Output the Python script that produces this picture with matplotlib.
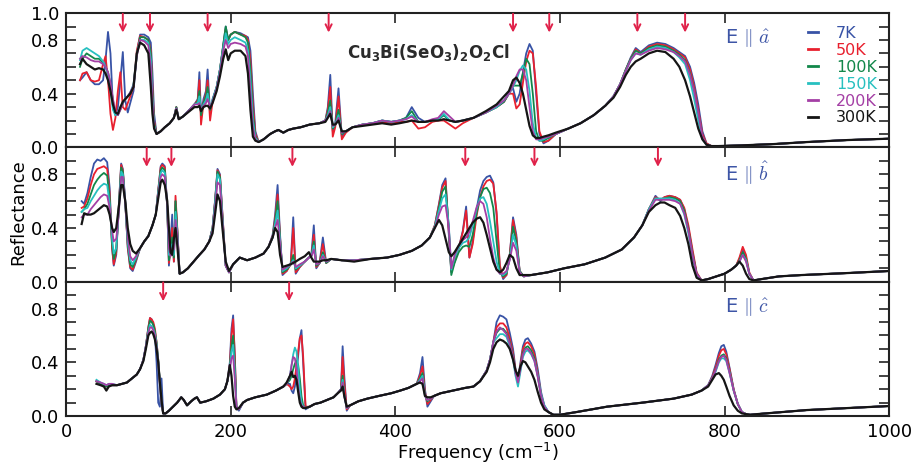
import matplotlib
matplotlib.use("Agg")
import matplotlib.pyplot as plt
from matplotlib.ticker import FixedLocator, MultipleLocator

# ---------------------------------------------------------------- data
temps = ["7K", "50K", "100K", "150K", "200K", "300K"]
colors = ["#3853a6", "#e8202e", "#12874a", "#27c0c0", "#a43fa5", "#151515"]

# E || a
freq_a = [17, 20, 25, 30, 35, 40, 45, 48, 51, 54, 57, 60, 63, 66, 69, 72, 75, 78, 82, 86, 90, 95, 100, 103, 105, 107, 110,
          115, 120, 126, 131, 134, 137, 142, 150, 156, 160, 162, 164, 167, 170, 172, 175, 178, 183, 187, 191, 194, 197, 200, 205, 212, 218, 221, 224, 227, 230, 234,
          240, 248, 254, 258, 264, 270, 276, 285, 296, 308, 315, 318, 321, 324, 327, 331, 335,
          340, 348, 360, 372, 384, 395, 405, 413, 420, 428, 436, 445, 452, 459, 466, 473, 482, 495, 510, 523, 532,
          538, 543, 547, 551, 555, 559, 563, 567, 571, 575, 580, 586, 595,
          610, 625, 641, 655, 665, 673, 680, 686, 692, 698, 708, 718, 728, 738, 745, 752, 758, 763, 768, 773, 778, 784, 792, 820, 860, 900, 950, 1000]
a_7K = [0.50, 0.52, 0.56, 0.50, 0.47, 0.47, 0.50, 0.65, 0.86, 0.70, 0.30, 0.24, 0.30, 0.50, 0.71, 0.35, 0.26, 0.33, 0.42, 0.70, 0.84, 0.84, 0.82, 0.78, 0.55, 0.25, 0.10,
        0.12, 0.15, 0.18, 0.22, 0.30, 0.21, 0.23, 0.28, 0.32, 0.36, 0.56, 0.24, 0.36, 0.42, 0.58, 0.25, 0.36, 0.45, 0.58, 0.76, 0.90, 0.80, 0.84, 0.86, 0.85, 0.83, 0.82, 0.72, 0.40, 0.12, 0.04,
        0.06, 0.10, 0.12, 0.13, 0.11, 0.13, 0.14, 0.15, 0.17, 0.18, 0.20, 0.30, 0.54, 0.12, 0.18, 0.44, 0.08,
        0.12, 0.15, 0.17, 0.18, 0.20, 0.19, 0.20, 0.22, 0.30, 0.22, 0.19, 0.20, 0.21, 0.24, 0.20, 0.19, 0.20, 0.22, 0.26, 0.30, 0.34,
        0.41, 0.44, 0.34, 0.40, 0.56, 0.70, 0.77, 0.72, 0.40, 0.10, 0.03, 0.05, 0.10,
        0.14, 0.18, 0.24, 0.31, 0.38, 0.47, 0.58, 0.67, 0.74, 0.71, 0.76, 0.78, 0.77, 0.74, 0.71, 0.68, 0.60, 0.48, 0.32, 0.12, 0.03, 0.01, 0.01, 0.015, 0.025, 0.04, 0.055, 0.065]
a_50K = [0.50, 0.55, 0.56, 0.50, 0.49, 0.50, 0.62, 0.68, 0.50, 0.25, 0.13, 0.22, 0.42, 0.56, 0.30, 0.28, 0.33, 0.38, 0.45, 0.72, 0.83, 0.82, 0.80, 0.72, 0.45, 0.20, 0.10,
         0.12, 0.15, 0.18, 0.22, 0.30, 0.21, 0.23, 0.28, 0.32, 0.35, 0.50, 0.17, 0.33, 0.40, 0.50, 0.20, 0.34, 0.45, 0.58, 0.75, 0.88, 0.80, 0.84, 0.86, 0.84, 0.83, 0.80, 0.65, 0.32, 0.10, 0.04,
         0.06, 0.10, 0.12, 0.13, 0.11, 0.13, 0.14, 0.15, 0.17, 0.18, 0.20, 0.28, 0.45, 0.08, 0.15, 0.38, 0.06,
         0.11, 0.15, 0.17, 0.18, 0.19, 0.18, 0.19, 0.19, 0.20, 0.14, 0.15, 0.19, 0.20, 0.20, 0.17, 0.14, 0.18, 0.22, 0.26, 0.30, 0.34,
         0.40, 0.40, 0.29, 0.32, 0.48, 0.64, 0.72, 0.70, 0.45, 0.12, 0.04, 0.05, 0.10,
         0.14, 0.18, 0.24, 0.31, 0.38, 0.47, 0.58, 0.66, 0.73, 0.70, 0.75, 0.77, 0.76, 0.73, 0.70, 0.67, 0.58, 0.45, 0.28, 0.10, 0.03, 0.01, 0.01, 0.015, 0.025, 0.04, 0.055, 0.065]
a_100K = [0.60, 0.66, 0.70, 0.68, 0.66, 0.66, 0.63, 0.60, 0.56, 0.47, 0.35, 0.25, 0.24, 0.28, 0.33, 0.36, 0.38, 0.40, 0.46, 0.68, 0.82, 0.82, 0.80, 0.70, 0.40, 0.18, 0.10,
          0.12, 0.15, 0.18, 0.22, 0.30, 0.21, 0.23, 0.28, 0.32, 0.34, 0.42, 0.24, 0.33, 0.38, 0.45, 0.28, 0.35, 0.45, 0.58, 0.76, 0.90, 0.80, 0.84, 0.86, 0.84, 0.82, 0.78, 0.58, 0.25, 0.08, 0.04,
          0.06, 0.10, 0.12, 0.13, 0.11, 0.13, 0.14, 0.15, 0.17, 0.18, 0.20, 0.26, 0.35, 0.14, 0.17, 0.28, 0.10,
          0.12, 0.15, 0.17, 0.18, 0.20, 0.19, 0.20, 0.22, 0.27, 0.19, 0.19, 0.20, 0.21, 0.24, 0.20, 0.19, 0.20, 0.22, 0.26, 0.30, 0.34,
          0.40, 0.46, 0.46, 0.46, 0.55, 0.66, 0.62, 0.40, 0.12, 0.05, 0.05, 0.07, 0.10,
          0.14, 0.18, 0.24, 0.31, 0.38, 0.47, 0.58, 0.66, 0.72, 0.70, 0.74, 0.76, 0.75, 0.72, 0.69, 0.65, 0.55, 0.42, 0.25, 0.08, 0.02, 0.01, 0.01, 0.015, 0.025, 0.04, 0.055, 0.065]
a_150K = [0.65, 0.72, 0.74, 0.72, 0.70, 0.68, 0.64, 0.60, 0.54, 0.42, 0.28, 0.24, 0.25, 0.29, 0.33, 0.36, 0.38, 0.41, 0.47, 0.70, 0.80, 0.80, 0.78, 0.65, 0.35, 0.16, 0.10,
          0.12, 0.15, 0.18, 0.22, 0.29, 0.21, 0.23, 0.28, 0.32, 0.33, 0.38, 0.27, 0.32, 0.35, 0.40, 0.29, 0.35, 0.45, 0.58, 0.74, 0.85, 0.77, 0.80, 0.82, 0.80, 0.78, 0.72, 0.50, 0.20, 0.07, 0.04,
          0.06, 0.10, 0.12, 0.13, 0.11, 0.13, 0.14, 0.15, 0.17, 0.18, 0.20, 0.24, 0.30, 0.15, 0.17, 0.24, 0.11,
          0.12, 0.15, 0.17, 0.18, 0.20, 0.19, 0.20, 0.21, 0.24, 0.19, 0.19, 0.20, 0.21, 0.25, 0.20, 0.19, 0.20, 0.22, 0.26, 0.30, 0.35,
          0.40, 0.45, 0.50, 0.57, 0.61, 0.58, 0.42, 0.18, 0.07, 0.05, 0.06, 0.08, 0.10,
          0.14, 0.18, 0.24, 0.31, 0.38, 0.47, 0.57, 0.65, 0.70, 0.69, 0.73, 0.75, 0.74, 0.71, 0.67, 0.62, 0.50, 0.36, 0.20, 0.06, 0.02, 0.01, 0.01, 0.015, 0.025, 0.04, 0.055, 0.065]
a_200K = [0.66, 0.68, 0.67, 0.65, 0.64, 0.64, 0.62, 0.60, 0.56, 0.48, 0.36, 0.27, 0.24, 0.28, 0.33, 0.36, 0.38, 0.41, 0.46, 0.68, 0.80, 0.79, 0.76, 0.60, 0.33, 0.15, 0.10,
          0.12, 0.15, 0.18, 0.22, 0.29, 0.21, 0.23, 0.28, 0.32, 0.32, 0.33, 0.28, 0.31, 0.33, 0.36, 0.30, 0.34, 0.44, 0.56, 0.72, 0.80, 0.74, 0.77, 0.78, 0.77, 0.75, 0.68, 0.42, 0.15, 0.06, 0.04,
          0.06, 0.10, 0.12, 0.13, 0.11, 0.13, 0.14, 0.15, 0.17, 0.18, 0.20, 0.23, 0.27, 0.16, 0.17, 0.22, 0.11,
          0.12, 0.15, 0.17, 0.18, 0.20, 0.19, 0.20, 0.21, 0.23, 0.19, 0.19, 0.21, 0.22, 0.27, 0.23, 0.19, 0.20, 0.22, 0.26, 0.31, 0.35,
          0.40, 0.46, 0.53, 0.58, 0.58, 0.50, 0.30, 0.12, 0.06, 0.06, 0.07, 0.08, 0.10,
          0.14, 0.18, 0.24, 0.31, 0.38, 0.47, 0.57, 0.65, 0.70, 0.69, 0.72, 0.74, 0.73, 0.71, 0.68, 0.64, 0.54, 0.42, 0.26, 0.08, 0.02, 0.01, 0.01, 0.015, 0.025, 0.04, 0.055, 0.065]
a_300K = [0.62, 0.66, 0.62, 0.60, 0.58, 0.59, 0.58, 0.55, 0.50, 0.42, 0.32, 0.26, 0.25, 0.30, 0.34, 0.36, 0.38, 0.40, 0.45, 0.70, 0.78, 0.76, 0.70, 0.45, 0.25, 0.14, 0.10,
          0.12, 0.15, 0.18, 0.22, 0.28, 0.21, 0.23, 0.27, 0.30, 0.30, 0.31, 0.27, 0.30, 0.31, 0.31, 0.29, 0.33, 0.42, 0.53, 0.66, 0.73, 0.65, 0.70, 0.72, 0.72, 0.68, 0.55, 0.28, 0.08, 0.05, 0.04,
          0.06, 0.10, 0.12, 0.13, 0.11, 0.13, 0.14, 0.15, 0.17, 0.18, 0.19, 0.22, 0.25, 0.17, 0.17, 0.20, 0.12,
          0.12, 0.15, 0.16, 0.17, 0.18, 0.17, 0.18, 0.19, 0.20, 0.19, 0.19, 0.20, 0.20, 0.21, 0.20, 0.19, 0.20, 0.22, 0.27, 0.32, 0.38,
          0.42, 0.50, 0.52, 0.48, 0.40, 0.28, 0.16, 0.09, 0.07, 0.07, 0.08, 0.09, 0.11,
          0.14, 0.18, 0.24, 0.31, 0.37, 0.45, 0.54, 0.60, 0.64, 0.66, 0.70, 0.72, 0.71, 0.66, 0.60, 0.50, 0.38, 0.26, 0.14, 0.06, 0.02, 0.01, 0.01, 0.015, 0.025, 0.04, 0.055, 0.065]

# E || b
freq_b = [19, 22, 26, 30, 34, 38, 42, 46, 50, 53, 56, 58, 61, 64, 67, 69, 72, 75, 78, 81, 85, 90, 95, 100, 105, 109, 112, 115, 117, 120, 123, 125, 127, 129, 131, 133, 135, 138,
          142, 148, 155, 162, 168, 174, 178, 181, 184, 187, 190, 194, 198, 203, 211, 220, 230, 240, 246, 251, 254, 257, 260, 263, 268, 273, 276, 279, 284, 290, 295, 298, 301, 304, 308, 312, 316, 322,
          335, 350, 370, 390, 405, 420, 432, 442, 448, 453, 457, 461, 465, 468, 472, 477, 482, 486, 490, 494, 499, 503, 507, 511, 515, 519, 523, 527, 531, 535, 539, 543, 547, 551, 556,
          565, 585, 605, 630, 655, 675, 690, 700, 708, 716, 722, 727, 733, 740, 746, 751, 756, 761, 766, 772, 780, 790, 800, 808, 814, 818, 822, 826, 830, 835, 845, 866, 894, 950, 1000]
b_7K = [0.60, 0.58, 0.66, 0.78, 0.88, 0.91, 0.90, 0.92, 0.89, 0.70, 0.25, 0.12, 0.20, 0.55, 0.88, 0.84, 0.60, 0.25, 0.10, 0.08, 0.15, 0.25, 0.30, 0.34, 0.42, 0.50, 0.68, 0.86, 0.88, 0.86, 0.55, 0.12, 0.30, 0.50, 0.15, 0.60, 0.40, 0.06,
        0.07, 0.10, 0.15, 0.20, 0.24, 0.30, 0.40, 0.60, 0.84, 0.80, 0.50, 0.12, 0.07, 0.13, 0.18, 0.16, 0.18, 0.21, 0.26, 0.35, 0.50, 0.72, 0.35, 0.05, 0.08, 0.14, 0.48, 0.06, 0.11, 0.15, 0.18, 0.20, 0.42, 0.10, 0.14, 0.33, 0.14, 0.17,
        0.16, 0.16, 0.17, 0.18, 0.20, 0.23, 0.27, 0.33, 0.42, 0.58, 0.72, 0.77, 0.35, 0.07, 0.15, 0.25, 0.38, 0.56, 0.18, 0.30, 0.55, 0.68, 0.75, 0.78, 0.79, 0.74, 0.50, 0.10, 0.02, 0.05, 0.20, 0.48, 0.35, 0.08, 0.04,
        0.05, 0.07, 0.10, 0.13, 0.18, 0.24, 0.33, 0.42, 0.54, 0.64, 0.60, 0.63, 0.64, 0.63, 0.61, 0.54, 0.40, 0.22, 0.06, 0.01, 0.02, 0.04, 0.06, 0.09, 0.12, 0.17, 0.24, 0.18, 0.06, 0.01, 0.02, 0.04, 0.05, 0.065, 0.08]
b_50K = [0.55, 0.56, 0.62, 0.72, 0.80, 0.84, 0.85, 0.86, 0.84, 0.66, 0.25, 0.13, 0.22, 0.55, 0.87, 0.83, 0.58, 0.26, 0.11, 0.09, 0.16, 0.25, 0.30, 0.34, 0.42, 0.50, 0.68, 0.85, 0.87, 0.85, 0.55, 0.14, 0.25, 0.40, 0.15, 0.64, 0.42, 0.06,
         0.07, 0.10, 0.15, 0.20, 0.24, 0.30, 0.40, 0.60, 0.83, 0.79, 0.50, 0.12, 0.07, 0.13, 0.18, 0.16, 0.18, 0.21, 0.26, 0.34, 0.47, 0.65, 0.33, 0.06, 0.08, 0.13, 0.40, 0.07, 0.11, 0.15, 0.18, 0.19, 0.35, 0.11, 0.14, 0.28, 0.14, 0.17,
         0.16, 0.16, 0.17, 0.18, 0.20, 0.23, 0.27, 0.33, 0.42, 0.57, 0.70, 0.75, 0.36, 0.08, 0.15, 0.25, 0.37, 0.53, 0.18, 0.28, 0.50, 0.63, 0.71, 0.75, 0.76, 0.73, 0.52, 0.12, 0.03, 0.05, 0.20, 0.46, 0.33, 0.08, 0.04,
         0.05, 0.07, 0.10, 0.13, 0.18, 0.24, 0.33, 0.42, 0.54, 0.63, 0.61, 0.63, 0.64, 0.63, 0.61, 0.55, 0.42, 0.24, 0.07, 0.01, 0.02, 0.04, 0.06, 0.09, 0.12, 0.18, 0.26, 0.20, 0.07, 0.01, 0.02, 0.04, 0.05, 0.065, 0.08]
b_100K = [0.52, 0.54, 0.58, 0.65, 0.72, 0.76, 0.79, 0.81, 0.79, 0.62, 0.28, 0.17, 0.24, 0.55, 0.85, 0.82, 0.58, 0.28, 0.13, 0.11, 0.17, 0.25, 0.30, 0.34, 0.42, 0.50, 0.67, 0.83, 0.85, 0.83, 0.55, 0.16, 0.22, 0.33, 0.18, 0.60, 0.40, 0.06,
          0.07, 0.10, 0.15, 0.20, 0.24, 0.30, 0.40, 0.59, 0.82, 0.78, 0.48, 0.12, 0.07, 0.13, 0.18, 0.16, 0.18, 0.21, 0.26, 0.33, 0.45, 0.60, 0.32, 0.07, 0.09, 0.13, 0.20, 0.09, 0.12, 0.15, 0.18, 0.19, 0.30, 0.12, 0.14, 0.22, 0.14, 0.17,
          0.16, 0.16, 0.17, 0.18, 0.20, 0.23, 0.27, 0.33, 0.41, 0.55, 0.67, 0.71, 0.40, 0.05, 0.14, 0.22, 0.26, 0.27, 0.26, 0.35, 0.52, 0.63, 0.69, 0.70, 0.66, 0.55, 0.30, 0.07, 0.04, 0.06, 0.18, 0.41, 0.30, 0.08, 0.04,
          0.05, 0.07, 0.10, 0.13, 0.18, 0.24, 0.33, 0.42, 0.54, 0.62, 0.61, 0.62, 0.63, 0.62, 0.60, 0.53, 0.39, 0.21, 0.06, 0.01, 0.02, 0.04, 0.06, 0.09, 0.12, 0.16, 0.22, 0.17, 0.06, 0.01, 0.02, 0.04, 0.05, 0.065, 0.08]
b_150K = [0.52, 0.54, 0.55, 0.60, 0.64, 0.68, 0.71, 0.73, 0.72, 0.58, 0.32, 0.21, 0.25, 0.52, 0.82, 0.80, 0.58, 0.30, 0.16, 0.13, 0.18, 0.25, 0.30, 0.34, 0.42, 0.50, 0.66, 0.81, 0.83, 0.81, 0.56, 0.20, 0.20, 0.28, 0.20, 0.52, 0.38, 0.06,
          0.07, 0.10, 0.15, 0.20, 0.24, 0.30, 0.39, 0.58, 0.80, 0.76, 0.47, 0.12, 0.07, 0.13, 0.18, 0.16, 0.18, 0.21, 0.26, 0.33, 0.43, 0.53, 0.30, 0.08, 0.10, 0.13, 0.16, 0.10, 0.12, 0.15, 0.18, 0.19, 0.27, 0.13, 0.14, 0.20, 0.15, 0.17,
          0.16, 0.16, 0.17, 0.18, 0.20, 0.23, 0.27, 0.33, 0.41, 0.53, 0.62, 0.65, 0.42, 0.09, 0.18, 0.25, 0.29, 0.30, 0.33, 0.42, 0.55, 0.62, 0.63, 0.58, 0.45, 0.30, 0.15, 0.06, 0.05, 0.07, 0.17, 0.35, 0.27, 0.07, 0.04,
          0.05, 0.07, 0.10, 0.13, 0.18, 0.24, 0.33, 0.42, 0.54, 0.62, 0.62, 0.62, 0.62, 0.61, 0.58, 0.50, 0.36, 0.18, 0.05, 0.01, 0.02, 0.04, 0.06, 0.09, 0.12, 0.15, 0.20, 0.16, 0.06, 0.01, 0.02, 0.04, 0.05, 0.065, 0.08]
b_200K = [0.48, 0.50, 0.50, 0.54, 0.57, 0.60, 0.63, 0.65, 0.64, 0.55, 0.38, 0.30, 0.32, 0.50, 0.78, 0.78, 0.58, 0.33, 0.19, 0.16, 0.19, 0.25, 0.30, 0.34, 0.42, 0.50, 0.64, 0.78, 0.80, 0.78, 0.57, 0.25, 0.19, 0.25, 0.24, 0.46, 0.36, 0.06,
          0.07, 0.10, 0.15, 0.20, 0.24, 0.30, 0.38, 0.55, 0.74, 0.72, 0.45, 0.12, 0.07, 0.13, 0.18, 0.16, 0.18, 0.21, 0.26, 0.33, 0.40, 0.46, 0.28, 0.09, 0.11, 0.13, 0.15, 0.11, 0.13, 0.15, 0.18, 0.19, 0.24, 0.13, 0.14, 0.19, 0.15, 0.17,
          0.16, 0.16, 0.17, 0.18, 0.20, 0.23, 0.27, 0.33, 0.40, 0.50, 0.56, 0.57, 0.40, 0.10, 0.20, 0.27, 0.31, 0.33, 0.37, 0.45, 0.56, 0.60, 0.58, 0.48, 0.32, 0.18, 0.09, 0.06, 0.06, 0.08, 0.16, 0.29, 0.23, 0.07, 0.04,
          0.05, 0.07, 0.10, 0.13, 0.18, 0.24, 0.33, 0.42, 0.53, 0.61, 0.61, 0.61, 0.61, 0.60, 0.58, 0.51, 0.38, 0.20, 0.06, 0.01, 0.02, 0.04, 0.06, 0.09, 0.12, 0.15, 0.20, 0.15, 0.06, 0.01, 0.02, 0.04, 0.05, 0.065, 0.08]
b_300K = [0.43, 0.51, 0.50, 0.50, 0.51, 0.53, 0.55, 0.57, 0.56, 0.50, 0.40, 0.37, 0.40, 0.55, 0.72, 0.72, 0.60, 0.40, 0.28, 0.23, 0.21, 0.25, 0.30, 0.34, 0.42, 0.50, 0.62, 0.74, 0.76, 0.72, 0.60, 0.40, 0.22, 0.20, 0.32, 0.40, 0.28, 0.06,
          0.07, 0.10, 0.15, 0.20, 0.24, 0.30, 0.36, 0.50, 0.65, 0.60, 0.40, 0.15, 0.08, 0.13, 0.18, 0.16, 0.18, 0.21, 0.26, 0.33, 0.40, 0.37, 0.20, 0.11, 0.12, 0.13, 0.14, 0.15, 0.17, 0.19, 0.22, 0.18, 0.15, 0.15, 0.15, 0.16, 0.16, 0.17,
          0.16, 0.15, 0.17, 0.18, 0.20, 0.23, 0.27, 0.33, 0.40, 0.46, 0.42, 0.32, 0.22, 0.19, 0.22, 0.27, 0.32, 0.36, 0.40, 0.44, 0.47, 0.48, 0.44, 0.35, 0.25, 0.15, 0.09, 0.07, 0.09, 0.14, 0.20, 0.18, 0.10, 0.05, 0.05,
          0.05, 0.07, 0.10, 0.13, 0.18, 0.24, 0.33, 0.42, 0.52, 0.57, 0.59, 0.59, 0.57, 0.55, 0.49, 0.40, 0.28, 0.12, 0.03, 0.01, 0.02, 0.04, 0.06, 0.09, 0.12, 0.15, 0.12, 0.06, 0.02, 0.01, 0.02, 0.04, 0.05, 0.065, 0.08]

# E || c
freq_c = [37, 42, 46, 49, 52, 56, 62, 68, 74, 80, 86, 90, 94, 97, 100, 102, 104, 106, 108, 110, 112, 114, 116, 118, 121,
          125, 130, 135, 140, 143, 147, 152, 156, 159, 163, 170, 179, 187, 193, 196, 199, 201, 203, 205, 207, 210, 215, 220, 230, 244, 255, 264,
          268, 272, 274, 276, 278, 280, 282, 284, 286, 288, 291, 296, 302, 309, 317, 325, 330, 334, 336, 338, 341, 345,
          355, 366, 380, 395, 406, 416, 426, 430, 433, 436, 439, 443, 447, 455, 470, 485, 495, 503, 511, 515, 519,
          523, 527, 531, 535, 539, 543, 546, 549, 552, 555, 558, 561, 565, 569, 573, 577, 581, 586, 592, 600,
          620, 657, 700, 738, 760, 772, 780, 785, 789, 793, 796, 799, 802, 806, 811, 816, 821, 826, 831, 840, 860, 900, 950, 1000]
c_7K = [0.26, 0.24, 0.23, 0.22, 0.23, 0.23, 0.23, 0.24, 0.25, 0.28, 0.31, 0.35, 0.42, 0.52, 0.66, 0.73, 0.72, 0.68, 0.60, 0.40, 0.10, 0.07, 0.28, 0.02, 0.02,
        0.04, 0.07, 0.10, 0.14, 0.12, 0.08, 0.11, 0.13, 0.14, 0.10, 0.11, 0.13, 0.16, 0.20, 0.26, 0.40, 0.65, 0.75, 0.45, 0.06, 0.04, 0.10, 0.12, 0.14, 0.16, 0.19, 0.22,
        0.24, 0.24, 0.19, 0.17, 0.22, 0.32, 0.45, 0.58, 0.64, 0.40, 0.05, 0.07, 0.09, 0.10, 0.12, 0.14, 0.17, 0.20, 0.52, 0.30, 0.04, 0.08,
        0.11, 0.13, 0.15, 0.17, 0.19, 0.21, 0.24, 0.32, 0.44, 0.20, 0.07, 0.11, 0.15, 0.17, 0.19, 0.21, 0.22, 0.26, 0.34, 0.42, 0.55,
        0.70, 0.75, 0.74, 0.72, 0.62, 0.50, 0.35, 0.27, 0.40, 0.52, 0.57, 0.58, 0.54, 0.48, 0.35, 0.18, 0.08, 0.03, 0.01, 0.01,
        0.03, 0.07, 0.10, 0.13, 0.16, 0.19, 0.23, 0.30, 0.38, 0.47, 0.52, 0.53, 0.48, 0.36, 0.20, 0.09, 0.03, 0.015, 0.01, 0.015, 0.025, 0.045, 0.06, 0.075]
c_50K = [0.26, 0.24, 0.23, 0.22, 0.23, 0.23, 0.23, 0.24, 0.25, 0.28, 0.31, 0.35, 0.42, 0.52, 0.66, 0.73, 0.72, 0.70, 0.65, 0.55, 0.42, 0.25, 0.10, 0.02, 0.02,
         0.04, 0.07, 0.10, 0.14, 0.12, 0.08, 0.11, 0.13, 0.14, 0.10, 0.11, 0.13, 0.16, 0.20, 0.26, 0.38, 0.60, 0.72, 0.45, 0.07, 0.05, 0.10, 0.12, 0.14, 0.16, 0.19, 0.22,
         0.24, 0.22, 0.20, 0.22, 0.28, 0.38, 0.48, 0.58, 0.60, 0.45, 0.07, 0.07, 0.09, 0.10, 0.12, 0.14, 0.17, 0.20, 0.44, 0.25, 0.05, 0.08,
         0.11, 0.13, 0.15, 0.17, 0.19, 0.21, 0.24, 0.30, 0.37, 0.18, 0.09, 0.12, 0.15, 0.17, 0.19, 0.21, 0.22, 0.26, 0.34, 0.42, 0.55,
         0.66, 0.69, 0.69, 0.66, 0.58, 0.47, 0.34, 0.27, 0.38, 0.50, 0.54, 0.55, 0.52, 0.46, 0.32, 0.16, 0.07, 0.03, 0.01, 0.01,
         0.03, 0.07, 0.10, 0.13, 0.16, 0.19, 0.23, 0.29, 0.36, 0.45, 0.49, 0.50, 0.46, 0.35, 0.20, 0.09, 0.03, 0.015, 0.01, 0.015, 0.025, 0.045, 0.06, 0.075]
c_100K = [0.26, 0.24, 0.23, 0.22, 0.23, 0.23, 0.23, 0.24, 0.25, 0.28, 0.31, 0.35, 0.42, 0.52, 0.65, 0.71, 0.70, 0.68, 0.63, 0.55, 0.42, 0.25, 0.10, 0.02, 0.02,
          0.04, 0.07, 0.10, 0.14, 0.12, 0.08, 0.11, 0.13, 0.14, 0.10, 0.11, 0.13, 0.16, 0.20, 0.26, 0.36, 0.52, 0.60, 0.38, 0.07, 0.05, 0.10, 0.12, 0.14, 0.16, 0.19, 0.22,
          0.24, 0.27, 0.30, 0.35, 0.39, 0.41, 0.38, 0.28, 0.15, 0.08, 0.06, 0.07, 0.09, 0.10, 0.12, 0.14, 0.17, 0.20, 0.30, 0.16, 0.06, 0.08,
          0.11, 0.13, 0.15, 0.17, 0.19, 0.21, 0.24, 0.28, 0.32, 0.16, 0.11, 0.13, 0.15, 0.17, 0.19, 0.21, 0.22, 0.26, 0.34, 0.42, 0.55,
          0.62, 0.65, 0.65, 0.62, 0.55, 0.45, 0.32, 0.25, 0.36, 0.47, 0.51, 0.52, 0.49, 0.43, 0.30, 0.15, 0.07, 0.03, 0.01, 0.01,
          0.03, 0.07, 0.10, 0.13, 0.16, 0.19, 0.23, 0.28, 0.34, 0.42, 0.45, 0.46, 0.43, 0.33, 0.19, 0.09, 0.03, 0.015, 0.01, 0.015, 0.025, 0.045, 0.06, 0.075]
c_150K = [0.27, 0.25, 0.24, 0.23, 0.24, 0.24, 0.23, 0.24, 0.25, 0.28, 0.31, 0.35, 0.42, 0.52, 0.63, 0.68, 0.67, 0.65, 0.61, 0.53, 0.41, 0.25, 0.10, 0.02, 0.02,
          0.04, 0.07, 0.10, 0.14, 0.12, 0.08, 0.11, 0.13, 0.14, 0.10, 0.11, 0.13, 0.16, 0.20, 0.26, 0.36, 0.48, 0.53, 0.32, 0.07, 0.05, 0.10, 0.12, 0.14, 0.16, 0.19, 0.22,
          0.24, 0.30, 0.38, 0.46, 0.51, 0.48, 0.36, 0.20, 0.10, 0.07, 0.06, 0.07, 0.09, 0.10, 0.12, 0.14, 0.17, 0.20, 0.27, 0.15, 0.06, 0.08,
          0.11, 0.13, 0.15, 0.17, 0.19, 0.21, 0.24, 0.27, 0.30, 0.15, 0.12, 0.13, 0.15, 0.17, 0.19, 0.21, 0.22, 0.26, 0.34, 0.42, 0.55,
          0.58, 0.61, 0.61, 0.59, 0.52, 0.42, 0.30, 0.22, 0.33, 0.44, 0.48, 0.49, 0.46, 0.41, 0.30, 0.16, 0.08, 0.03, 0.01, 0.01,
          0.03, 0.07, 0.10, 0.13, 0.16, 0.19, 0.23, 0.28, 0.33, 0.40, 0.43, 0.43, 0.41, 0.32, 0.19, 0.09, 0.03, 0.015, 0.01, 0.015, 0.025, 0.045, 0.06, 0.075]
c_200K = [0.26, 0.25, 0.24, 0.23, 0.24, 0.24, 0.23, 0.24, 0.25, 0.28, 0.31, 0.35, 0.42, 0.52, 0.62, 0.66, 0.66, 0.64, 0.60, 0.52, 0.40, 0.24, 0.10, 0.02, 0.02,
          0.04, 0.07, 0.10, 0.14, 0.12, 0.08, 0.11, 0.13, 0.14, 0.10, 0.11, 0.13, 0.16, 0.20, 0.26, 0.35, 0.43, 0.45, 0.28, 0.07, 0.05, 0.10, 0.12, 0.14, 0.16, 0.19, 0.22,
          0.24, 0.30, 0.38, 0.44, 0.43, 0.35, 0.22, 0.12, 0.08, 0.07, 0.06, 0.07, 0.09, 0.10, 0.12, 0.14, 0.17, 0.20, 0.25, 0.15, 0.06, 0.08,
          0.11, 0.13, 0.15, 0.17, 0.19, 0.21, 0.24, 0.26, 0.28, 0.15, 0.12, 0.13, 0.15, 0.17, 0.19, 0.21, 0.22, 0.26, 0.34, 0.42, 0.55,
          0.63, 0.66, 0.64, 0.61, 0.54, 0.44, 0.32, 0.25, 0.35, 0.46, 0.50, 0.50, 0.47, 0.41, 0.29, 0.15, 0.07, 0.03, 0.01, 0.01,
          0.03, 0.07, 0.10, 0.13, 0.16, 0.19, 0.23, 0.28, 0.34, 0.41, 0.44, 0.45, 0.42, 0.32, 0.19, 0.09, 0.03, 0.015, 0.01, 0.015, 0.025, 0.045, 0.06, 0.075]
c_300K = [0.24, 0.23, 0.22, 0.19, 0.22, 0.23, 0.23, 0.24, 0.25, 0.28, 0.31, 0.35, 0.41, 0.50, 0.60, 0.62, 0.63, 0.61, 0.57, 0.50, 0.40, 0.25, 0.12, 0.02, 0.02,
          0.04, 0.07, 0.10, 0.14, 0.12, 0.08, 0.11, 0.13, 0.14, 0.10, 0.11, 0.13, 0.16, 0.20, 0.26, 0.38, 0.30, 0.15, 0.07, 0.05, 0.06, 0.10, 0.12, 0.14, 0.16, 0.19, 0.22,
          0.25, 0.30, 0.33, 0.29, 0.30, 0.27, 0.18, 0.10, 0.07, 0.06, 0.06, 0.07, 0.09, 0.10, 0.12, 0.14, 0.17, 0.19, 0.22, 0.15, 0.07, 0.08,
          0.11, 0.13, 0.15, 0.17, 0.19, 0.21, 0.24, 0.25, 0.24, 0.15, 0.14, 0.14, 0.15, 0.17, 0.19, 0.21, 0.22, 0.26, 0.33, 0.40, 0.50,
          0.55, 0.57, 0.56, 0.54, 0.50, 0.42, 0.34, 0.30, 0.37, 0.41, 0.40, 0.37, 0.33, 0.27, 0.18, 0.10, 0.05, 0.03, 0.01, 0.01,
          0.03, 0.07, 0.10, 0.13, 0.16, 0.19, 0.22, 0.27, 0.31, 0.32, 0.30, 0.27, 0.22, 0.15, 0.08, 0.04, 0.02, 0.015, 0.01, 0.015, 0.025, 0.045, 0.06, 0.075]

# arrow marks (cm^-1) for each polarisation
arrows_a = [69, 102, 172, 319, 543, 587, 694, 752]
arrows_b = [98, 128, 275, 485, 569, 719]
arrows_c = [118, 271]

panel_labels = [r"E $\Vert\ \hat{a}$", r"E $\Vert\ \hat{b}$", r"E $\Vert\ \hat{c}$"]
compound = r"$\mathbf{Cu_3Bi(SeO_3)_2O_2Cl}$"

# ---------------------------------------------------------------- figure
plt.rcParams["font.family"] = ["DejaVu Sans"]
fig = plt.figure(figsize=(9.22, 4.67), dpi=100)
gs = fig.add_gridspec(3, 1, hspace=0.0, left=0.0716, right=0.9645,
                      top=0.972, bottom=0.109)
axes = [fig.add_subplot(gs[i]) for i in range(3)]

panels = [
    (freq_a, [a_7K, a_50K, a_100K, a_150K, a_200K, a_300K], arrows_a),
    (freq_b, [b_7K, b_50K, b_100K, b_150K, b_200K, b_300K], arrows_b),
    (freq_c, [c_7K, c_50K, c_100K, c_150K, c_200K, c_300K], arrows_c),
]

arrow_color = "#e0224a"
label_color = "#3d55a6"
spine_color = "#222222"

for k, (ax, (freq, series, arr)) in enumerate(zip(axes, panels)):
    for name, vals, col in zip(temps, series, colors):
        if len(vals) != len(freq):
            raise ValueError(f"panel {k} {name}: {len(vals)} vs {len(freq)}")
        ax.plot(freq, vals, color=col, lw=1.6 if name == "300K" else 1.3,
                label=name, solid_joinstyle="round")
    for f in arr:
        ax.annotate("", xy=(f, 0.855), xytext=(f, 0.995),
                    arrowprops=dict(arrowstyle="->", color=arrow_color,
                                    lw=1.4, mutation_scale=11,
                                    shrinkA=0, shrinkB=0))
    ax.set_xlim(0, 1000)
    ax.set_ylim(0, 1.0)
    ax.xaxis.set_major_locator(MultipleLocator(200))
    if k == 0:
        ax.yaxis.set_major_locator(FixedLocator([0.0, 0.4, 0.8, 1.0]))
    else:
        ax.yaxis.set_major_locator(FixedLocator([0.0, 0.4, 0.8]))
    ax.yaxis.set_minor_locator(MultipleLocator(0.1))
    ax.tick_params(which="both", direction="in", top=True, right=True,
                   length=7, width=1.2, color=spine_color, labelsize=13,
                   pad=5)
    if k < 2:
        ax.tick_params(labelbottom=False)
    for sp in ax.spines.values():
        sp.set_linewidth(1.5)
        sp.set_color(spine_color)
    ax.text(801, 0.81, panel_labels[k], color=label_color, fontsize=14,
            ha="left", va="center", math_fontfamily="cm")

axes[0].text(440, 0.71, compound, color="#2a2a2a", fontsize=12,
             ha="center", va="center")

leg = axes[0].legend(loc="upper right", bbox_to_anchor=(0.985, 0.905),
                     frameon=False, handlelength=0.65, handletextpad=1.1,
                     labelspacing=0.12, fontsize=11.5, borderaxespad=0,
                     borderpad=0, labelcolor="linecolor")
for h in leg.get_lines():
    h.set_linewidth(2.0)

axes[2].set_xlabel(r"Frequency (cm$^{-1}$)", fontsize=13, labelpad=0)
fig.text(0.0195, 0.545, "Reflectance", rotation=90, fontsize=13,
         ha="center", va="center")

fig.savefig("out.png", dpi=100)
